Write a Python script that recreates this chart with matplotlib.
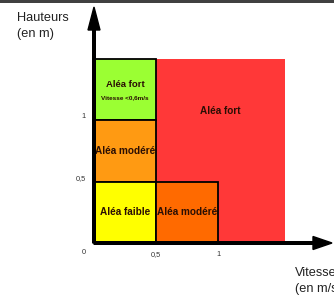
import matplotlib
matplotlib.use("Agg")
import matplotlib.pyplot as plt
from matplotlib.patches import Rectangle, FancyArrow

plt.rcParams['font.family'] = ['Liberation Sans', 'DejaVu Sans']

# Zones: (x0, x1, y0, y1) in m/s and m
zone_names = ["Aléa fort", "Aléa fort", "Aléa modéré", "Aléa faible", "Aléa modéré"]
zone_sub = ["", "Vitesse <0,6m/s", "", "", ""]
zone_x0 = [0.0, 0.0, 0.0, 0.0, 0.5]
zone_x1 = [1.54, 0.5, 0.5, 0.5, 1.0]
zone_y0 = [0.0, 1.0, 0.5, 0.0, 0.0]
zone_y1 = [1.5, 1.5, 1.0, 0.5, 0.5]
zone_colors = ["#ff3838", "#9bff33", "#ff9a12", "#ffff00", "#ff6a00"]
zone_edges = [False, True, True, True, True]

xticks = [0.5, 1]
xtick_labels = ["0,5", "1"]
yticks = [0.5, 1]
ytick_labels = ["0,5", "1"]

W, H = 334, 300
fig = plt.figure(figsize=(W / 100, H / 100), dpi=100)
fig.patch.set_facecolor("white")

x0px, y0px = 94, 243
ux, uy = 124.0, 123.0  # pixels per unit
ax_w, ax_h = 240, 237
ax = fig.add_axes([x0px / W, (H - y0px) / H, ax_w / W, ax_h / H])
ax.set_xlim(0, ax_w / ux)
ax.set_ylim(0, ax_h / uy)
ax.axis("off")

txt_color = "#2a0e04"
for n, s, a, b, c, d, col, e in zip(zone_names, zone_sub, zone_x0, zone_x1,
                                     zone_y0, zone_y1, zone_colors, zone_edges):
    ax.add_patch(Rectangle((a, c), b - a, d - c, facecolor=col,
                           edgecolor="black" if e else "none",
                           linewidth=1.3 if e else 0, zorder=2 if e else 1))
    cx = (a + b) / 2
    cy = (c + d) / 2
    if s:
        ax.text(cx, cy + 0.04, n, ha="center", va="center", fontsize=6.8,
                fontweight="bold", color=txt_color, zorder=5)
        ax.text(cx, cy - 0.065, s, ha="center", va="center", fontsize=4.6,
                fontweight="bold", color=txt_color, zorder=5)
    else:
        if b - a > 1:
            cy = 1.07
            cx = 1.02
        ax.text(cx, cy, n, ha="center", va="center", fontsize=7.2,
                fontweight="bold", color=txt_color, zorder=5)

# axes arrows
ax.add_patch(FancyArrow(0, 0, (332 - x0px) / ux, 0, width=2.6 / uy,
                        head_width=13 / uy, head_length=19 / ux,
                        length_includes_head=True, color="black",
                        clip_on=False, zorder=6))
ax.add_patch(FancyArrow(0, 0, 0, (y0px - 7) / uy, width=2.6 / ux,
                        head_width=12 / ux, head_length=23 / uy,
                        length_includes_head=True, color="black",
                        clip_on=False, zorder=6))

for t, l in zip(xticks, xtick_labels):
    ax.text(t, -12 / uy, l, ha="center", va="center", fontsize=5.3, color="#333333")
for t, l in zip(yticks, ytick_labels):
    ax.text(-8 / ux, t + 3 / uy, l, ha="right", va="center", fontsize=5.3, color="#333333")
ax.text(-10 / ux, -9 / uy, "0", ha="center", va="center", fontsize=5.3, color="#333333")

# axis titles
fig.text(17 / W, 1 - 26 / H, "Hauteurs\n(en m)", ha="left", va="center",
         fontsize=9.2, color="#222222", linespacing=1.35)
fig.text(295 / W, 1 - 281 / H, "Vitesse\n(en m/s)", ha="left", va="center",
         fontsize=9.2, color="#222222", linespacing=1.35)

# top border line
fig.add_artist(Rectangle((0, 1 - 2.5 / H), 1, 2.5 / H, transform=fig.transFigure,
                         facecolor="#404040", edgecolor="none"))

fig.savefig("out.png", dpi=100)
